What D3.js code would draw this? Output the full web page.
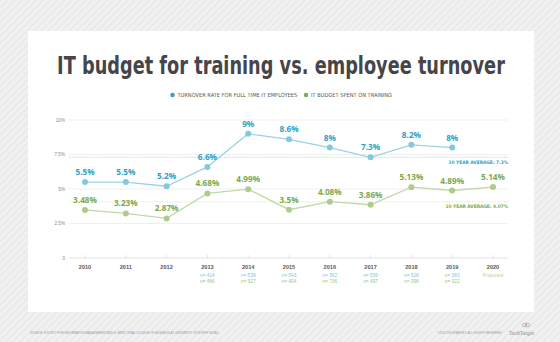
<!DOCTYPE html>
<html>
<head>
<meta charset="utf-8">
<script src="https://cdn.jsdelivr.net/npm/d3@7"></script>
<style>
  html, body { margin: 0; padding: 0; background: #f2f2f2; }
  svg { display: block; }
</style>
</head>
<body>
<div id="chart"></div>
<script>
const years = ['2010', '2011', '2012', '2013', '2014', '2015', '2016', '2017', '2018', '2019', '2020'];
const turnover = [5.5, 5.5, 5.2, 6.6, 9, 8.6, 8, 7.3, 8.2, 8]; // 2010-2019
const budget = [3.48, 3.23, 2.87, 4.68, 4.99, 3.5, 4.08, 3.86, 5.13, 4.89, 5.14]; // 2010-2020
const turnoverAvg = 7.3;
const budgetAvg = 4.07;
const yTicks = [0, 2.5, 5, 7.5, 10];
const yTickLabels = ['0', '2.5%', '5%', '7.5%', '10%'];
const turnoverN = [null, null, null, 414, 539, 543, 562, 539, 518, 383, null];
const budgetN = [null, null, null, 466, 527, 404, 736, 497, 398, 322, null];

const W = 560, H = 342;
const BLUE = '#2f9fc6', BLUE_LINE = '#9ad3e4', BLUE_DOT = '#84c8de';
const GREEN = '#7ba94b', GREEN_LINE = '#c2d8a6', GREEN_DOT = '#accb8c';
const COND = "'Liberation Sans Narrow', 'DejaVu Sans Condensed', 'Liberation Sans', sans-serif";

const svg = d3.select('#chart').append('svg')
  .attr('width', W)
  .attr('height', H);

// scale a text's font size so it runs to the given width
function fitWidth(sel, width) {
  sel.each(function () {
    const fs = parseFloat(this.getAttribute('font-size'));
    const w = this.getComputedTextLength();
    if (w > 0) this.setAttribute('font-size', (fs * width / w).toFixed(2));
  });
  return sel;
}

// striped page background
const defs = svg.append('defs');
const pat = defs.append('pattern')
  .attr('id', 'stripes')
  .attr('patternUnits', 'userSpaceOnUse')
  .attr('width', 5)
  .attr('height', 5)
  .attr('patternTransform', 'rotate(45)');
pat.append('rect').attr('width', 5).attr('height', 5).attr('fill', '#f1f1f1');
pat.append('rect').attr('width', 1.4).attr('height', 5).attr('fill', '#e7e7e7');
svg.append('rect').attr('width', W).attr('height', H).attr('fill', 'url(#stripes)');

// white card
svg.append('rect')
  .attr('x', 28).attr('y', 31)
  .attr('width', 506).attr('height', 281)
  .attr('fill', '#fff');

// title: keep the letter height, squeeze horizontally to the card width
const title = svg.append('text')
  .attr('text-anchor', 'middle')
  .attr('font-family', COND)
  .attr('font-weight', 'bold')
  .attr('font-size', 24)
  .attr('fill', '#45454a')
  .text('IT budget for training vs. employee turnover');
const titleW = title.node().getComputedTextLength();
title.attr('transform', `translate(281,74) scale(${448 / titleW},1)`);

// legend
const legend = [
  { label: 'TURNOVER RATE FOR FULL TIME IT EMPLOYEES', color: BLUE, x: 172.5, w: 120 },
  { label: 'IT BUDGET SPENT ON TRAINING', color: GREEN, x: 306, w: 81 },
];
const lg = svg.append('g').selectAll('g').data(legend).join('g')
  .attr('transform', (d) => `translate(${d.x},95)`);
lg.append('circle').attr('r', 2.2).attr('fill', (d) => d.color);
lg.append('text')
  .attr('x', 5).attr('y', 2)
  .attr('font-family', COND)
  .attr('font-size', 6)
  .attr('fill', '#555')
  .text((d) => d.label)
  .each(function (d) { fitWidth(d3.select(this), d.w); });

const x = d3.scalePoint().domain(years).range([85, 493]);
const y = d3.scaleLinear().domain([0, 10]).range([258, 120]);
const gridL = 69, gridR = 508;

// gridlines + y labels
const grid = svg.append('g');
grid.selectAll('line').data(yTicks).join('line')
  .attr('x1', gridL).attr('x2', gridR)
  .attr('y1', (d) => y(d)).attr('y2', (d) => y(d))
  .attr('stroke', (d) => (d === 0 ? '#e2e2e2' : '#efefef'))
  .attr('stroke-width', 1);
grid.selectAll('text').data(yTicks).join('text')
  .attr('x', 65).attr('y', (d) => y(d) + 1.6)
  .attr('text-anchor', 'end')
  .attr('font-family', "'Liberation Sans', sans-serif")
  .attr('font-size', 4.6)
  .attr('fill', '#888')
  .text((d, i) => yTickLabels[i]);

// x axis: short ticks, year labels
const xAxis = svg.append('g');
xAxis.selectAll('line').data(years).join('line')
  .attr('x1', (d) => x(d)).attr('x2', (d) => x(d))
  .attr('y1', 255).attr('y2', 258)
  .attr('stroke', '#e2e2e2');
xAxis.selectAll('text.year').data(years).join('text')
  .attr('class', 'year')
  .attr('x', (d) => x(d)).attr('y', 269)
  .attr('text-anchor', 'middle')
  .attr('font-family', "'Liberation Sans', sans-serif")
  .attr('font-weight', 'bold')
  .attr('font-size', 5.6)
  .attr('fill', '#5a5a5a')
  .text((d) => d);

const nRow = (vals, color, yy) => {
  xAxis.append('g').selectAll('text')
    .data(years.map((yr, i) => ({ yr, n: vals[i] })).filter((d) => d.n != null))
    .join('text')
    .attr('x', (d) => x(d.yr)).attr('y', yy)
    .attr('text-anchor', 'middle')
    .attr('font-family', "'Liberation Sans', sans-serif")
    .attr('font-size', 4.8)
    .attr('fill', color)
    .text((d) => `n= ${d.n}`);
};
nRow(turnoverN, '#7cc7dd', 277);
nRow(budgetN, '#a4c47f', 283);
xAxis.append('text')
  .attr('x', x('2020')).attr('y', 277)
  .attr('text-anchor', 'middle')
  .attr('font-family', "'Liberation Sans', sans-serif")
  .attr('font-size', 4.8)
  .attr('fill', '#b8d39a')
  .text('Projected');

// 10-year averages
const avgs = [
  { v: turnoverAvg, color: BLUE_LINE, text: '10 YEAR AVERAGE: 7.3%', tc: BLUE },
  { v: budgetAvg, color: '#d5e3c3', text: '10 YEAR AVERAGE: 4.07%', tc: GREEN },
];
const ag = svg.append('g');
ag.selectAll('line').data(avgs).join('line')
  .attr('x1', gridL).attr('x2', gridR)
  .attr('y1', (d) => y(d.v)).attr('y2', (d) => y(d.v))
  .attr('stroke', (d) => d.color)
  .attr('stroke-width', 0.7)
  .attr('stroke-dasharray', '1.5,1');
ag.selectAll('text').data(avgs).join('text')
  .attr('x', gridR).attr('y', (d) => y(d.v) + 6.5)
  .attr('text-anchor', 'end')
  .attr('font-family', COND)
  .attr('font-weight', 'bold')
  .attr('font-size', 4.8)
  .attr('fill', (d) => d.tc)
  .text((d) => d.text);

const fmt = (v) => `${v}%`;

const series = [
  { vals: budget, line: GREEN_LINE, dot: GREEN_DOT, label: GREEN },
  { vals: turnover, line: BLUE_LINE, dot: BLUE_DOT, label: BLUE },
];
series.forEach((s) => {
  const pts = s.vals.map((v, i) => ({ yr: years[i], v }));
  const g = svg.append('g');
  g.append('path')
    .datum(pts)
    .attr('fill', 'none')
    .attr('stroke', s.line)
    .attr('stroke-width', 1.3)
    .attr('d', d3.line().x((d) => x(d.yr)).y((d) => y(d.v)));
  g.selectAll('circle').data(pts).join('circle')
    .attr('cx', (d) => x(d.yr)).attr('cy', (d) => y(d.v))
    .attr('r', 3)
    .attr('fill', s.dot);
  g.selectAll('text').data(pts).join('text')
    .attr('x', (d) => x(d.yr)).attr('y', (d) => y(d.v) - 7)
    .attr('text-anchor', 'middle')
    .attr('font-family', "'Open Sans', 'Liberation Sans', sans-serif")
    .attr('font-weight', 'bold')
    .attr('font-size', 8.2)
    .attr('fill', s.label)
    .text((d) => fmt(d.v));
});

// footer
fitWidth(svg.append('text')
  .attr('x', 30).attr('y', 334)
  .attr('font-family', "'Liberation Sans Narrow', 'Liberation Sans', sans-serif")
  .attr('font-size', 3.6)
  .attr('fill', '#999')
  .text('SOURCE: SOCIETY FOR INFORMATION MANAGEMENT AND G. BRINT RYAN COLLEGE OF BUSINESS AT UNIVERSITY OF NORTH TEXAS'), 188);
fitWidth(svg.append('text')
  .attr('x', 437).attr('y', 334)
  .attr('font-family', "'Liberation Sans Narrow', 'Liberation Sans', sans-serif")
  .attr('font-size', 3.6)
  .attr('fill', '#999')
  .text('©2020 TECHTARGET. ALL RIGHTS RESERVED'), 65);
const logo = svg.append('g').attr('transform', 'translate(509,0)');
logo.append('ellipse')
  .attr('cx', 17).attr('cy', 325).attr('rx', 4).attr('ry', 1.8)
  .attr('fill', 'none').attr('stroke', '#999').attr('stroke-width', 0.6);
logo.append('circle').attr('cx', 17).attr('cy', 325).attr('r', 1).attr('fill', '#999');
fitWidth(logo.append('text')
  .attr('x', 0).attr('y', 335)
  .attr('font-family', "'Liberation Serif', serif")
  .attr('font-size', 6.5)
  .attr('fill', '#888')
  .text('TechTarget'), 25);
</script>
</body>
</html>
